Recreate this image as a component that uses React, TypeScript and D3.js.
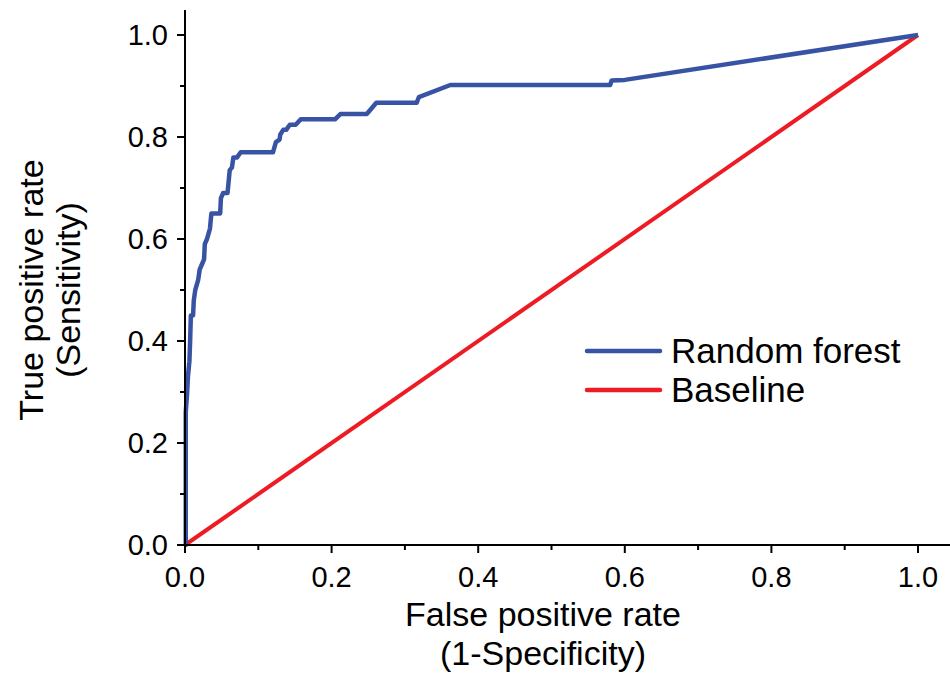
import React, { useEffect, useRef } from 'react';
import * as d3 from 'd3';

// ROC curve
const rfFpr = [0, 0.001, 0.001, 0.003, 0.004, 0.006, 0.007, 0.008, 0.011, 0.012, 0.014, 0.016, 0.018, 0.020, 0.023, 0.026, 0.027, 0.030, 0.032, 0.034, 0.036, 0.048, 0.049, 0.052, 0.058, 0.060, 0.061, 0.064, 0.066, 0.071, 0.076, 0.120, 0.124, 0.129, 0.130, 0.134, 0.138, 0.143, 0.151, 0.158, 0.205, 0.212, 0.248, 0.261, 0.316, 0.319, 0.362, 0.580, 0.582, 0.600, 1.0];
const rfTpr = [0, 0.0, 0.26, 0.30, 0.33, 0.36, 0.40, 0.45, 0.45, 0.48, 0.50, 0.51, 0.52, 0.54, 0.55, 0.56, 0.59, 0.60, 0.61, 0.62, 0.65, 0.65, 0.68, 0.69, 0.69, 0.72, 0.735, 0.74, 0.76, 0.76, 0.77, 0.77, 0.79, 0.795, 0.805, 0.814, 0.814, 0.824, 0.824, 0.835, 0.835, 0.845, 0.845, 0.867, 0.867, 0.878, 0.902, 0.902, 0.911, 0.912, 1.0];

const baseFpr = [0, 1];
const baseTpr = [0, 1];

const majorTicks = [0, 0.2, 0.4, 0.6, 0.8, 1.0];
const minorTicks = [0.1, 0.3, 0.5, 0.7, 0.9];

const seriesNames = ['Random forest', 'Baseline'];
const seriesColors = ['#3953a4', '#ed1c24'];

const FONT = 'Liberation Sans, Arial, sans-serif';

function App() {
  const svgRef = useRef(null);

  useEffect(() => {
    const svg = d3.select(svgRef.current);
    svg.selectAll('*').remove();

    const x = d3.scaleLinear().domain([0, 1]).range([185, 918]);
    const y = d3.scaleLinear().domain([0, 1]).range([545, 35]);
    const xEnd = 950;
    const yTop = 10;

    const g = svg.append('g');

    // curves
    const line = d3.line().x(d => x(d[0])).y(d => y(d[1]));

    g.append('path')
      .datum(baseFpr.map((v, i) => [v, baseTpr[i]]))
      .attr('d', line)
      .attr('fill', 'none')
      .attr('stroke', seriesColors[1])
      .attr('stroke-width', 4);

    g.append('path')
      .datum(rfFpr.map((v, i) => [v, rfTpr[i]]))
      .attr('d', line)
      .attr('fill', 'none')
      .attr('stroke', seriesColors[0])
      .attr('stroke-width', 4.5)
      .attr('stroke-linejoin', 'round');

    // axes
    const axX = g.append('g').attr('transform', `translate(0,${y(0)})`);
    axX.append('line').attr('x1', x(0)).attr('x2', xEnd).attr('stroke', '#000').attr('stroke-width', 2);
    axX.selectAll('.maj').data(majorTicks).enter().append('line')
      .attr('x1', d => x(d)).attr('x2', d => x(d)).attr('y1', 0).attr('y2', 8)
      .attr('stroke', '#000').attr('stroke-width', 2);
    axX.selectAll('.min').data(minorTicks).enter().append('line')
      .attr('x1', d => x(d)).attr('x2', d => x(d)).attr('y1', 0).attr('y2', 5)
      .attr('stroke', '#000').attr('stroke-width', 2);
    axX.selectAll('text').data(majorTicks).enter().append('text')
      .attr('x', d => x(d)).attr('y', 42)
      .attr('text-anchor', 'middle')
      .style('font-family', FONT).style('font-size', '29px')
      .text(d => d.toFixed(1));

    const axY = g.append('g').attr('transform', `translate(${x(0)},0)`);
    axY.append('line').attr('y1', y(0)).attr('y2', yTop).attr('stroke', '#000').attr('stroke-width', 2);
    axY.selectAll('.maj').data(majorTicks).enter().append('line')
      .attr('y1', d => y(d)).attr('y2', d => y(d)).attr('x1', 0).attr('x2', -8)
      .attr('stroke', '#000').attr('stroke-width', 2);
    axY.selectAll('.min').data(minorTicks).enter().append('line')
      .attr('y1', d => y(d)).attr('y2', d => y(d)).attr('x1', 0).attr('x2', -5)
      .attr('stroke', '#000').attr('stroke-width', 2);
    axY.selectAll('text').data(majorTicks).enter().append('text')
      .attr('x', -17).attr('y', d => y(d)).attr('dy', '0.35em')
      .attr('text-anchor', 'end')
      .style('font-family', FONT).style('font-size', '29px')
      .text(d => d.toFixed(1));

    // axis titles
    const xt = g.append('text').attr('text-anchor', 'middle')
      .style('font-family', FONT).style('font-size', '34px');
    xt.append('tspan').attr('x', 543).attr('y', 626).text('False positive rate');
    xt.append('tspan').attr('x', 543).attr('y', 665).text('(1-Specificity)');

    const yt = g.append('text').attr('text-anchor', 'middle')
      .attr('transform', 'translate(0,290) rotate(-90)')
      .style('font-family', FONT).style('font-size', '34px');
    yt.append('tspan').attr('x', 0).attr('y', 43).text('True positive rate');
    yt.append('tspan').attr('x', 0).attr('y', 80).text('(Sensitivity)');

    // legend
    const leg = g.append('g');
    seriesNames.forEach((name, i) => {
      const ly = 351 + i * 39;
      leg.append('line').attr('x1', 587).attr('x2', 660).attr('y1', ly).attr('y2', ly)
        .attr('stroke', seriesColors[i]).attr('stroke-width', 4.5).attr('stroke-linecap', 'round');
      leg.append('text').attr('x', 671).attr('y', ly).attr('dy', '0.35em')
        .style('font-family', FONT).style('font-size', '35px')
        .text(name);
    });
  }, []);

  return (
    <div style={{ position: 'absolute', left: 0, top: 0 }}>
      <svg ref={svgRef} width={950} height={692} style={{ display: 'block', background: '#fff' }} />
    </div>
  );
}

export default App;
